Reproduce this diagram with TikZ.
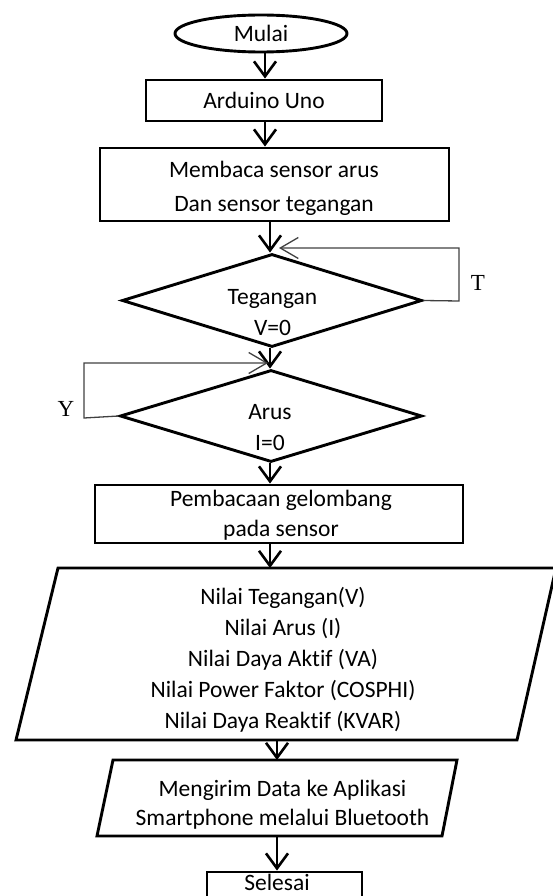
\documentclass[tikz,border=0pt]{standalone}
\usepackage{fontspec}
\setmainfont{Carlito}[Ligatures=NoCommon]
\newfontfamily\labelfont{Liberation Serif}
\usetikzlibrary{shapes.geometric,arrows.meta}
\newcommand\mainsize{\fontsize{23.5}{31}\selectfont}
\begin{document}
\begin{tikzpicture}[x=1pt,y=-1pt,
  box/.style={draw,line width=2.9pt,inner sep=0pt,font=\mainsize,align=center},
  txt/.style={font=\mainsize,align=center,inner sep=0pt},
  flow/.style={line width=2.6pt,-{Straight Barb[length=15pt,width=22pt]}},
  backline/.style={line width=1.3pt,draw=black!75,-{Straight Barb[length=18pt,width=21pt]}},
  side/.style={font=\labelfont\fontsize{23}{26}\selectfont,inner sep=0pt}]
\useasboundingbox (0,0) rectangle (552,896);
% axes for the vertical connectors
\coordinate (ax1) at (265,0);
\coordinate (ax2) at (270,0);
\coordinate (ax3) at (277,0);
% shapes
\node[box,ellipse,minimum width=172pt,minimum height=37pt] (mulai) at (261,33.5) {Mulai};
\node[box,minimum width=236pt,minimum height=41pt] (arduino) at (264,100.5) {Arduino Uno};
\node[box,minimum width=349pt,minimum height=73pt] (membaca) at (274.5,184.5) {};
\node[txt,font=\fontsize{23.5}{34}\selectfont] (membacaT) at (274,188) {Membaca sensor arus\\Dan sensor tegangan};
\node[box,diamond,minimum width=300pt,minimum height=93pt] (teg) at (272,300.5) {};
\node[txt] (tegT) at (272.5,312.5) {Tegangan\\V=0};
\node[box,diamond,minimum width=302pt,minimum height=92pt] (arus) at (271,416) {};
\node[txt] (arusT) at (270,427.5) {Arus\\I=0};
\node[box,minimum width=368pt,minimum height=58pt] (pemb) at (279,514) {};
\node[txt,font=\fontsize{23.5}{30}\selectfont] (pembT) at (281,515) {Pembacaan gelombang\\pada sensor};
% data parallelogram
\coordinate (dBL) at (16,740);
\coordinate (dTL) at (58,568);
\coordinate (dTR) at (556,568);
\coordinate (dBR) at (517,740);
\draw[line width=2.9pt,line join=miter] (dBL) -- (dTL) -- (dTR) -- (dBR) -- cycle;
\node[txt] (data) at (283,660) {Nilai Tegangan(V)\\Nilai Arus (I)\\Nilai Daya Aktif (VA)\\Nilai Power Faktor (COSPHI)\\Nilai Daya Reaktif (KVAR)};
% send parallelogram
\coordinate (kBL) at (97,836);
\coordinate (kTL) at (113,760);
\coordinate (kTR) at (457,760);
\coordinate (kBR) at (442,836);
\draw[line width=2.9pt,line join=miter] (kBL) -- (kTL) -- (kTR) -- (kBR) -- cycle;
\node[txt,font=\fontsize{23.5}{29}\selectfont] (kirim) at (282.5,804.5) {Mengirim Data ke Aplikasi\\Smartphone melalui Bluetooth};
\node[box,minimum width=155pt,minimum height=26pt] (selesai) at (284.5,885) {};
\node[txt] (selesaiT) at (277,882) {Selesai};
% main flow
\draw[flow] (mulai.south -| ax1) -- (arduino.north -| ax1);
\draw[flow] (arduino.south -| ax1) -- (membaca.north -| ax1);
\draw[flow] (membaca.south -| ax2) -- (teg.north -| ax2);
\draw[flow] (teg.south -| ax2) -- (arus.north -| ax2);
\draw[flow] (arus.south -| ax2) -- (pemb.north -| ax2);
\draw[flow] (pemb.south -| ax2) -- (dTL -| ax2);
\draw[flow] (dBL -| ax3) -- (kTL -| ax3);
\draw[flow] (kBL -| ax3) -- (selesai.north -| ax3);
% back loops
\coordinate (tTip) at (279,248);
\coordinate (yTip) at (268,363);
\draw[backline] (teg.east) -- (459,301) |- (tTip);
\draw[backline] (arus.west) -- (84,418) |- (yTip);
\node[side] (tl) at (478,283) {T};
\node[side] (yl) at (66,409) {Y};
\end{tikzpicture}
\end{document}
